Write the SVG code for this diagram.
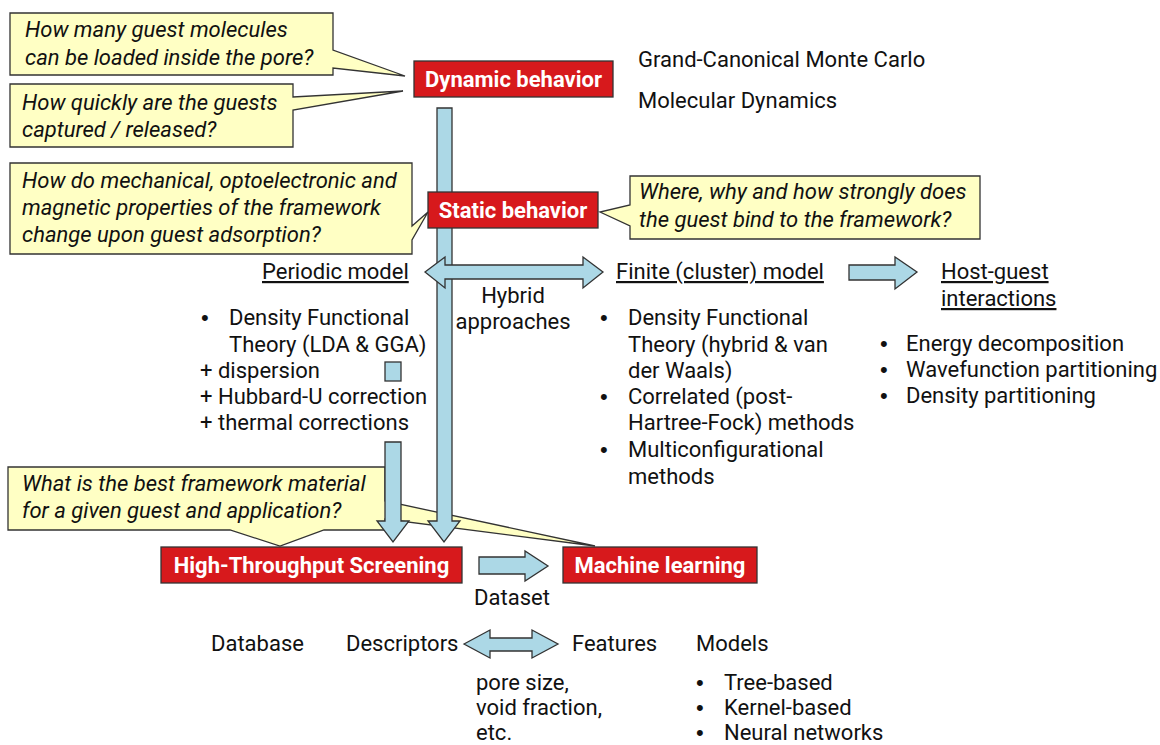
<svg xmlns="http://www.w3.org/2000/svg" width="1160" height="745" viewBox="0 0 1160 745">
<style>
text{font-family:Roboto,"Liberation Sans",sans-serif;font-size:22px;fill:#111}
.it{font-style:italic}
.bx{fill:#d7191c;stroke:#333;stroke-width:1.3}
.bt{fill:#fff;font-weight:700;text-anchor:middle}
.co{fill:#ffffc4;stroke:#333;stroke-width:1.3;stroke-linejoin:miter}
.ar{fill:#acd8e6;stroke:#333;stroke-width:1.3;stroke-linejoin:miter}
.u{text-decoration:underline}
.c{text-anchor:middle}
.b{font-family:"Liberation Sans",Arial,sans-serif;font-size:22px}
</style>
<rect width="1160" height="745" fill="#fff"/>

<g id="callout-load">
<path class="co" d="M10,13 H333 V50 L405,76 L333,68 V75 H10 Z"/>
<text class="it" x="25" y="37">How many guest molecules</text>
<text class="it" x="25" y="65">can be loaded inside the pore?</text>
</g>
<g id="callout-speed">
<path class="co" d="M10,84 H293 V97 L403,91 L293,110 V147 H10 Z"/>
<text class="it" x="22" y="110">How quickly are the guests</text>
<text class="it" x="22" y="137">captured / released?</text>
</g>
<g id="callout-props">
<path class="co" d="M10,163 H412 V226 L428,212 L412,240 V254 H10 Z"/>
<text class="it" x="22" y="188">How do mechanical, optoelectronic and</text>
<text class="it" x="22" y="215">magnetic properties of the framework</text>
<text class="it" x="22" y="242">change upon guest adsorption?</text>
</g>
<g id="callout-bind">
<path class="co" d="M630,176 H980 V239 H630 V226 L600,212 L630,205 Z"/>
<text class="it" x="639" y="199">Where, why and how strongly does</text>
<text class="it" x="639" y="227">the guest bind to the framework?</text>
</g>
<g id="callout-best">
<path class="co" d="M8,467 H385 V501 L595,546 L385,519 V530 H324 L280,546 L230,530 H8 Z"/>
<text class="it" x="22" y="491">What is the best framework material</text>
<text class="it" x="22" y="518">for a given guest and application?</text>
</g>

<g id="connectors">
<polygon class="ar" points="437,108 452,108 452,521 460,521 444,542 428,521 437,521"/>
<rect class="ar" x="385" y="362" width="16" height="19"/>
<polygon class="ar" points="385,442 401,442 401,521 409,521 393,542 377,521 385,521"/>
<polygon class="ar" points="425,272 445,257 445,265 583,265 583,257 603,272 583,288 583,279 445,279 445,288"/>
<polygon class="ar" points="849,265 895,265 895,257 917,272 895,289 895,280 849,280"/>
<polygon class="ar" points="479,557 525,557 525,551 548,566 525,581 525,574 479,574"/>
<polygon class="ar" points="464,644 490,630 490,638 532,638 532,630 558,644 532,658 532,651 490,651 490,658"/>
</g>

<g id="dynamic">
<rect class="bx" x="414" y="61" width="199" height="36"/>
<text class="bt" x="513.5" y="87">Dynamic behavior</text>
</g>
<g id="static">
<rect class="bx" x="428" y="192" width="170" height="36"/>
<text class="bt" x="513" y="218">Static behavior</text>
</g>
<g id="methods-dynamic">
<text x="638" y="67">Grand-Canonical Monte Carlo</text>
<text x="638" y="108">Molecular Dynamics</text>
</g>
<g id="periodic">
<text class="u" x="262" y="279">Periodic model</text>
<text class="b" x="201" y="325">•</text>
<text x="229" y="325">Density Functional</text>
<text x="229" y="352">Theory (LDA &amp; GGA)</text>
<text x="200" y="378">+ dispersion</text>
<text x="200" y="404">+ Hubbard-U correction</text>
<text x="200" y="430">+ thermal corrections</text>
</g>
<g id="hybrid">
<text class="c" x="513" y="303">Hybrid</text>
<text class="c" x="513" y="329">approaches</text>
</g>
<g id="finite">
<text class="u" x="616" y="279">Finite (cluster) model</text>
<text class="b" x="600" y="325">•</text>
<text x="628" y="325">Density Functional</text>
<text x="628" y="352">Theory (hybrid &amp; van</text>
<text x="628" y="378">der Waals)</text>
<text class="b" x="600" y="404">•</text>
<text x="628" y="404">Correlated (post-</text>
<text x="628" y="430">Hartree-Fock) methods</text>
<text class="b" x="600" y="457">•</text>
<text x="628" y="457">Multiconfigurational</text>
<text x="628" y="484">methods</text>
</g>
<g id="hostguest">
<text class="u" x="941" y="279">Host-guest </text>
<text class="u" x="941" y="306">interactions</text>
<text class="b" x="880" y="351">•</text>
<text x="906" y="351">Energy decomposition</text>
<text class="b" x="880" y="377">•</text>
<text x="906" y="377">Wavefunction partitioning</text>
<text class="b" x="880" y="403">•</text>
<text x="906" y="403">Density partitioning</text>
</g>
<g id="hts">
<rect class="bx" x="161" y="547" width="301" height="36"/>
<text class="bt" x="311.5" y="573">High-Throughput Screening</text>
</g>
<g id="ml">
<rect class="bx" x="563" y="547" width="194" height="36"/>
<text class="bt" x="660" y="573">Machine learning</text>
</g>
<g id="dataset">
<text class="c" x="512" y="605">Dataset</text>
</g>
<g id="bottom">
<text x="211" y="651">Database</text>
<text x="346" y="651">Descriptors</text>
<text x="572" y="651">Features</text>
<text x="476" y="690">pore size,</text>
<text x="476" y="715">void fraction,</text>
<text x="476" y="740">etc.</text>
<text x="696" y="651">Models</text>
<text class="b" x="696" y="690">•</text>
<text x="724" y="690">Tree-based</text>
<text class="b" x="696" y="715">•</text>
<text x="724" y="715">Kernel-based</text>
<text class="b" x="696" y="740">•</text>
<text x="724" y="740">Neural networks</text>
</g>
</svg>
